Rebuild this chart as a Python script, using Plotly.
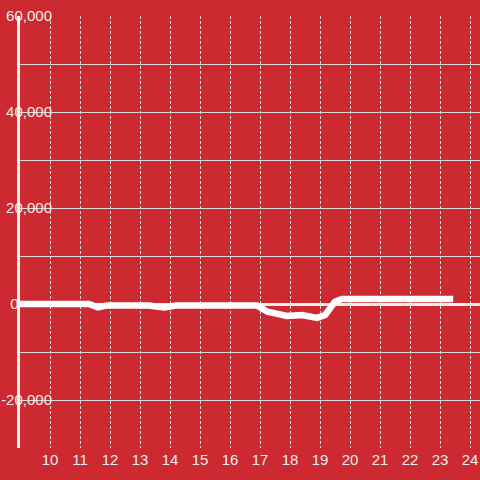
import plotly.graph_objects as go

hours = [8.9, 11.3, 11.6, 11.9, 13.3, 13.8, 14.2, 15.0, 16.0, 16.1, 16.9, 17.25, 17.9, 18.4, 18.9, 19.17, 19.5, 19.73, 23.44]
values = [0, 0, -700, -300, -300, -700, -300, -400, -500, -400, -300, -1600, -2500, -2300, -2900, -2300, 500, 1050, 1050]

x_ticks = list(range(10, 25))
y_ticks = [-20000, 0, 20000, 40000, 60000]
y_tick_text = ["-20,000", "0" + "\u00a0" * 8, "20,000", "40,000", "60,000"]

BG = "#cc2a30"
GRID = "#d9d9d9"
FG = "#eeeeee"

fig = go.Figure()
fig.add_trace(go.Scatter(x=hours, y=values, mode="lines",
                         line=dict(color="#ffffff", width=6.5), hoverinfo="skip"))

fig.update_layout(
    width=480, height=480,
    margin=dict(l=20, r=0, t=16, b=32),
    paper_bgcolor=BG, plot_bgcolor=BG,
    showlegend=False,
    font=dict(family="Liberation Sans, Arial, sans-serif", size=15, color=FG),
)
fig.update_xaxes(
    range=[9, 24.333], tickvals=x_ticks, ticktext=[str(v) for v in x_ticks],
    showgrid=True, gridcolor=GRID, gridwidth=1, griddash="3px,2px",
    showline=False, zeroline=False, ticks="", tickfont=dict(color=FG, size=15),
    ticklabelstandoff=1, fixedrange=True,
)
fig.update_yaxes(
    range=[-30000, 60000], tickvals=y_ticks, ticktext=y_tick_text,
    showgrid=True, gridcolor=GRID, gridwidth=1,
    minor=dict(dtick=10000, tick0=0, showgrid=True, gridcolor=GRID, gridwidth=1),
    showline=True, linecolor=FG, linewidth=3,
    zeroline=True, zerolinecolor=FG, zerolinewidth=2.5,
    ticks="", ticklabelposition="outside", ticklabelstandoff=-38,
    tickfont=dict(color=FG, size=15), fixedrange=True,
    automargin=False,
)

fig.write_html("out.html", config={"displayModeBar": False},
               post_script="document.body.style.margin='0';document.body.style.padding='0';")
